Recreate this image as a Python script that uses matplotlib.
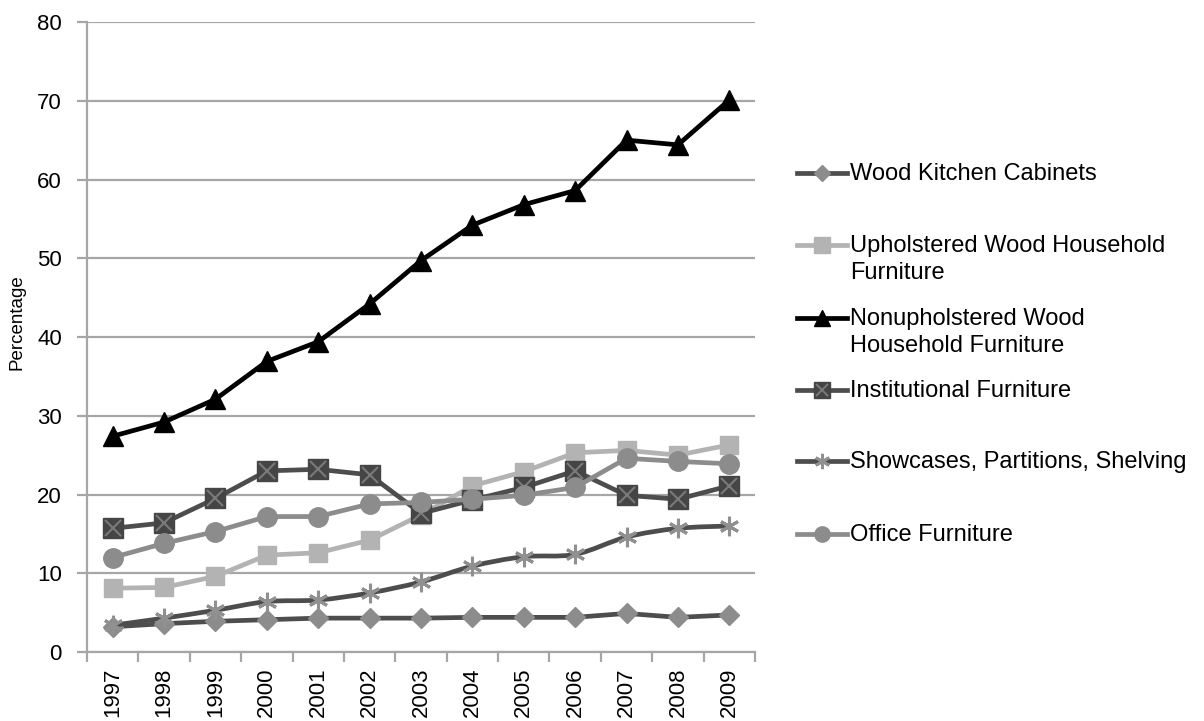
import numpy as np
import matplotlib
matplotlib.use("Agg")
import matplotlib.pyplot as plt
from matplotlib.lines import Line2D
from matplotlib.path import Path
from matplotlib.patches import PathPatch

plt.rcParams["font.family"] = ["Liberation Sans", "DejaVu Sans"]

years = ["1997", "1998", "1999", "2000", "2001", "2002", "2003",
         "2004", "2005", "2006", "2007", "2008", "2009"]

wood_kitchen = [3.2, 3.6, 3.9, 4.1, 4.3, 4.3, 4.3, 4.4, 4.4, 4.4, 4.9, 4.4, 4.7]
upholstered = [8.1, 8.2, 9.6, 12.3, 12.6, 14.2, 17.4, 21.1, 22.9, 25.3, 25.6, 25.0, 26.3]
nonupholstered = [27.4, 29.2, 32.1, 36.9, 39.4, 44.2, 49.7, 54.2, 56.8, 58.6, 65.0, 64.4, 70.1]
institutional = [15.7, 16.4, 19.5, 23.0, 23.2, 22.5, 17.6, 19.3, 20.9, 23.0, 19.9, 19.4, 21.1]
showcases = [3.4, 4.3, 5.3, 6.4, 6.6, 7.5, 8.9, 10.9, 12.1, 12.4, 14.6, 15.7, 16.0]
office = [12.0, 13.8, 15.3, 17.2, 17.2, 18.8, 19.0, 19.4, 19.9, 20.9, 24.6, 24.2, 23.9]

labels = ["Wood Kitchen Cabinets",
          "Upholstered Wood Household\nFurniture",
          "Nonupholstered Wood\nHousehold Furniture",
          "Institutional Furniture",
          "Showcases, Partitions, Shelving",
          "Office Furniture"]

DARK = "#4d4d4d"
MID = "#8c8c8c"
LIGHT = "#b3b3b3"
GRID = "#a6a6a6"
LW = 3.4


def smooth_path(x, y):
    # bezier through points, like a spreadsheet "smoothed line"
    pts = np.column_stack([x, y]).astype(float)
    verts = [pts[0]]
    codes = [Path.MOVETO]
    n = len(pts)
    for i in range(n - 1):
        p0 = pts[i - 1] if i > 0 else pts[i]
        p1 = pts[i]
        p2 = pts[i + 1]
        p3 = pts[i + 2] if i + 2 < n else pts[i + 1]
        c1 = p1 + (p2 - p0) / 6.0
        c2 = p2 - (p3 - p1) / 6.0
        verts += [c1, c2, p2]
        codes += [Path.CURVE4] * 3
    return Path(verts, codes)


fig = plt.figure(figsize=(12.04, 7.21), dpi=100)
ax = fig.add_axes([87 / 1204, 1 - 652 / 721, (755 - 87) / 1204, (652 - 22) / 721])

x = np.arange(len(years))

ax.plot(x, wood_kitchen, color=DARK, lw=LW, marker="D", ms=10, mfc=MID, mec=MID, zorder=3)
ax.plot(x, upholstered, color=LIGHT, lw=LW, marker="s", ms=13, mfc=LIGHT, mec=LIGHT, zorder=3)
ax.plot(x, nonupholstered, color="black", lw=LW, marker="^", ms=14, mfc="black", mec="black", zorder=3)
ax.plot(x, institutional, color=DARK, lw=LW, marker="s", ms=14, mfc="#454545", mec="#454545", zorder=3)
ax.plot(x, institutional, ls="none", marker="x", ms=11, mec="#7a7a7a", mew=1.5, zorder=3)
ax.add_patch(PathPatch(smooth_path(x, showcases), fc="none", ec=DARK, lw=LW, zorder=3))
ax.plot(x, showcases, ls="none", marker=(6, 2, 0), ms=14, mec="#909090", mew=2.2, zorder=3)
ax.plot(x, office, color=MID, lw=LW, marker="o", ms=14, mfc=MID, mec=MID, zorder=3)

ax.set_xlim(-0.5, len(years) - 0.5)
ax.set_ylim(0, 80)
ax.set_yticks(range(0, 81, 10))
ax.yaxis.grid(True, color=GRID, lw=1.6)
ax.set_axisbelow(True)

ax.set_xticks(x)
ax.set_xticklabels(years, rotation=90)
ax.set_xticks(np.arange(-0.5, len(years), 1.0), minor=True)
ax.tick_params(axis="x", which="major", length=0, pad=11, labelsize=16)
ax.tick_params(axis="x", which="minor", length=7, width=1.6, color=GRID)
ax.tick_params(axis="y", length=7, width=1.6, color=GRID, pad=11, labelsize=16)

for side in ["top", "right"]:
    ax.spines[side].set_visible(False)
for side in ["left", "bottom"]:
    ax.spines[side].set_color(GRID)
    ax.spines[side].set_linewidth(1.6)

ax.set_ylabel("Percentage", fontsize=13.5)
ax.yaxis.set_label_coords(-0.092, 0.524)

# legend, drawn by hand to match spreadsheet spacing
styles = [
    dict(color=DARK, marker="D", ms=8, mfc=MID, mec=MID),
    dict(color=LIGHT, marker="s", ms=11, mfc=LIGHT, mec=LIGHT),
    dict(color="black", marker="^", ms=12, mfc="black", mec="black"),
    dict(color=DARK, marker="s", ms=11, mfc="#454545", mec="#454545"),
    dict(color=DARK, marker=(6, 2, 0), ms=11, mec="#909090", mew=2),
    dict(color=MID, marker="o", ms=11, mfc=MID, mec=MID),
]
row_y = [173, 245, 318, 390, 461, 534]
for lab, st, yp in zip(labels, styles, row_y):
    yf = 1 - yp / 721
    fig.add_artist(Line2D([797 / 1204, 847 / 1204], [yf, yf], lw=LW,
                          transform=fig.transFigure, color=st["color"]))
    mk = {k: v for k, v in st.items() if k != "color"}
    fig.add_artist(Line2D([822 / 1204], [yf], ls="none", transform=fig.transFigure, **mk))
    if lab == "Institutional Furniture":
        fig.add_artist(Line2D([822 / 1204], [yf], ls="none", marker="x", ms=9,
                              mec="#7a7a7a", mew=1.4, transform=fig.transFigure))
    fig.text(850 / 1204, 1 - (yp - 10) / 721, lab, fontsize=17, va="top", ha="left",
             linespacing=1.3)

fig.savefig("out.png", dpi=100)
